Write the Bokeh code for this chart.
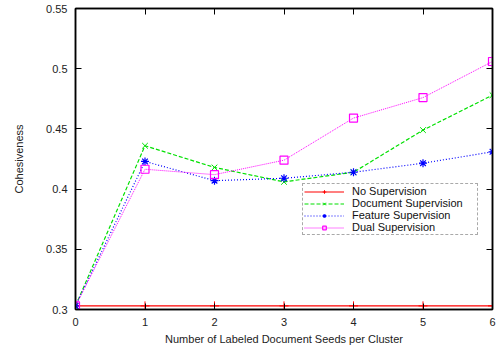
from bokeh.plotting import figure
from bokeh.models import Range1d, LinearAxis, Legend, LegendItem, FixedTicker, CustomJSTickFormatter
from bokeh.embed import file_html
from bokeh.resources import INLINE

seeds = [0, 1, 2, 3, 4, 5, 6]
no_sup = [0.303, 0.303, 0.303, 0.303, 0.303, 0.303, 0.303]
doc_sup = [0.303, 0.436, 0.418, 0.406, 0.414, 0.449, 0.478]
feat_sup = [0.303, 0.423, 0.407, 0.409, 0.414, 0.4215, 0.431]
dual_sup = [0.303, 0.4165, 0.412, 0.424, 0.459, 0.476, 0.506]

x_ticks = [0, 1, 2, 3, 4, 5, 6]
y_ticks = [0.3, 0.35, 0.4, 0.45, 0.5, 0.55]

FONT = "Liberation Sans"

p = figure(width=500, height=347, output_backend="svg", toolbar_location=None,
           x_range=Range1d(0, 6), y_range=Range1d(0.3, 0.55),
           min_border_left=75, min_border_right=8, min_border_top=8, min_border_bottom=38)
p.xgrid.visible = False
p.ygrid.visible = False
p.outline_line_color = "black"
p.outline_line_width = 1.5
p.background_fill_color = "white"

def style_axis(ax, ticks, labels=True):
    ax.ticker = FixedTicker(ticks=ticks)
    ax.major_tick_in = 6
    ax.major_tick_out = 0
    ax.minor_tick_in = 0
    ax.minor_tick_out = 0
    ax.axis_line_color = "black"
    ax.axis_line_width = 1.5
    ax.major_tick_line_color = "black"
    ax.major_tick_line_width = 1
    ax.major_label_text_font = FONT
    ax.major_label_text_font_size = "11px"
    ax.major_label_text_color = "#222222"
    ax.axis_label_text_font = FONT
    ax.axis_label_text_font_size = "11px"
    ax.axis_label_text_font_style = "normal"
    ax.axis_label_text_color = "#222222"
    if not labels:
        ax.major_label_standoff = 0
        ax.formatter = CustomJSTickFormatter(code="return '';")

style_axis(p.xaxis[0], x_ticks)
style_axis(p.yaxis[0], y_ticks)
p.xaxis[0].major_label_standoff = 8
p.xaxis[0].axis_label_standoff = 4
p.yaxis[0].major_label_standoff = 8
p.yaxis[0].axis_label_standoff = 18
p.xaxis[0].axis_label = "Number of Labeled Document Seeds per Cluster"
p.yaxis[0].axis_label = "Cohesiveness"
p.yaxis[0].formatter.use_scientific = False

rax = LinearAxis()
style_axis(rax, y_ticks, labels=False)
p.add_layout(rax, "right")
tax = LinearAxis()
style_axis(tax, x_ticks, labels=False)
p.add_layout(tax, "above")

r1 = p.line(seeds, no_sup, line_color="#ff0000", line_width=1.2)
m1 = p.scatter(seeds, no_sup, marker="cross", size=9, line_color="#ff0000", line_width=1)
r2 = p.line(seeds, doc_sup, line_color="#00e000", line_width=1.2, line_dash="4 2")
m2 = p.scatter(seeds, doc_sup, marker="x", size=8, line_color="#00e000", line_width=1)
r3 = p.line(seeds, feat_sup, line_color="#0000ff", line_width=1.2, line_dash="1 2")
m3 = p.scatter(seeds, feat_sup, marker="asterisk", size=8, line_color="#0000ff", line_width=1.2)
r4 = p.line(seeds, dual_sup, line_color="#ff00ff", line_width=1, line_dash="1 1")
m4 = p.scatter(seeds, dual_sup, marker="square", size=8, line_color="#ff00ff", fill_color=None, line_width=1.2)

legend = Legend(items=[
    LegendItem(label="No Supervision", renderers=[r1, m1]),
    LegendItem(label="Document Supervision", renderers=[r2, m2]),
    LegendItem(label="Feature Supervision", renderers=[r3, m3]),
    LegendItem(label="Dual Supervision", renderers=[r4, m4]),
], location=(227, 74))
legend.border_line_color = "#555555"
legend.border_line_dash = "2 2"
legend.border_line_width = 1
legend.background_fill_color = "white"
legend.background_fill_alpha = 1
legend.label_text_font = FONT
legend.label_text_font_size = "11px"
legend.label_text_color = "#111111"
legend.label_text_line_height = 0.9
legend.label_height = 9
legend.glyph_height = 9
legend.glyph_width = 40
legend.label_width = 124
legend.label_standoff = 8
legend.spacing = 0
legend.padding = 1
legend.margin = 0
p.add_layout(legend, "center")

open("out.html", "w").write(file_html(p, INLINE))
